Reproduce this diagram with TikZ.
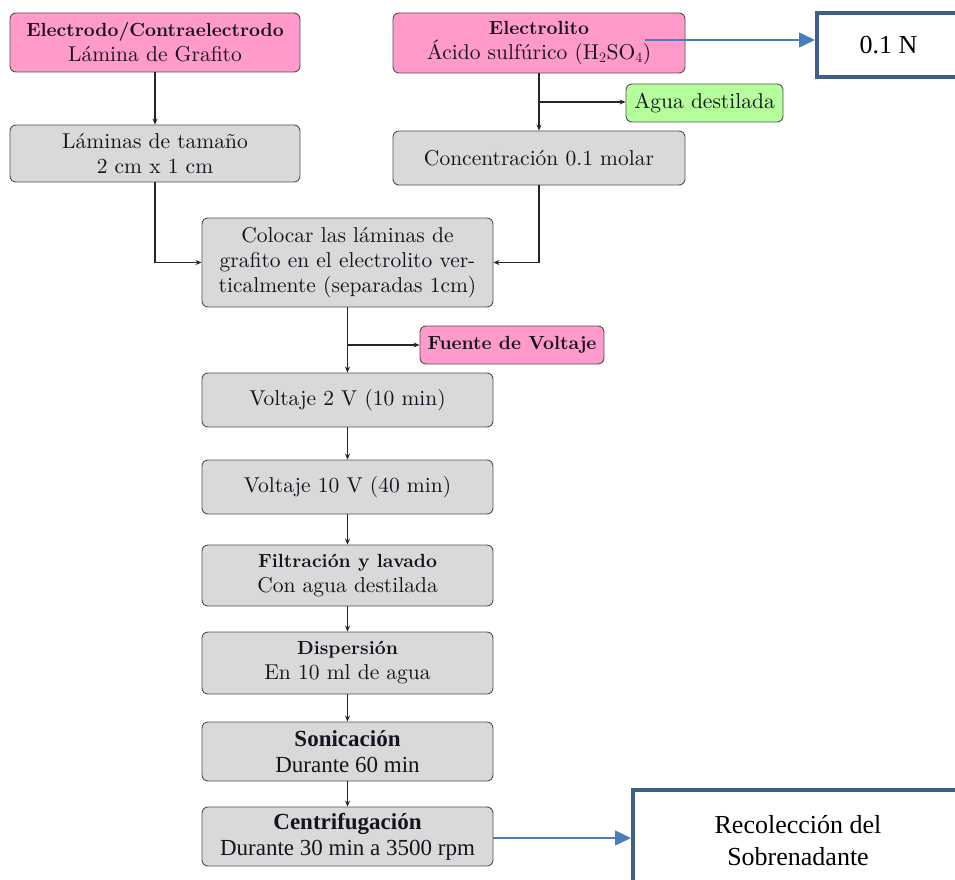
\documentclass[tikz,border=0pt]{standalone}
\usepackage{fontspec}
\setmainfont{lmroman10-regular.otf}[BoldFont=lmroman10-bold.otf, ItalicFont=lmroman10-italic.otf, BoldItalicFont=lmroman10-bolditalic.otf]
\newfontfamily\tnr{Liberation Serif}
\usetikzlibrary{arrows.meta}
\definecolor{pinkf}{HTML}{FF9ACB}
\definecolor{grayf}{HTML}{D9D9D9}
\definecolor{greenf}{HTML}{B4FF9C}
\definecolor{bord}{HTML}{505050}
\definecolor{bluea}{HTML}{4A7EBB}
\definecolor{blueb}{HTML}{3D5F8C}
\definecolor{txt}{HTML}{141420}
\newcommand\bt[1]{{\fontsize{19}{25}\selectfont\bfseries #1}}
\tikzset{
  box/.style={draw=bord, line width=0.9pt, rounded corners=6pt, align=center,
    font=\fontsize{21.5}{25}\selectfont, inner sep=2pt, text=txt},
  pinkbox/.style={box, fill=pinkf},
  graybox/.style={box, fill=grayf},
  greenbox/.style={box, fill=greenf},
  tbox/.style={graybox, font=\tnr\fontsize{23}{26}\selectfont},
  bigbox/.style={draw=blueb, line width=4pt, fill=white, align=center,
    font=\tnr\fontsize{26}{32}\selectfont, text=black},
  arr/.style={draw=black!85, line width=1.1pt, -{Stealth[length=6pt,width=5pt]}},
  bluearr/.style={draw=bluea, line width=1.3pt, -{Triangle[length=16pt,width=15pt]}}
}
\begin{document}
\begin{tikzpicture}[x=1pt,y=-1pt]
\useasboundingbox (0,0) rectangle (955,880);
\clip (0,0) rectangle (955,880);
% nodes
\node[pinkbox, minimum width=290pt, minimum height=59pt] (A) at (155,42.5)
  {\bt{Electrodo/Contraelectrodo}\\Lámina de Grafito};
\node[graybox, minimum width=290pt, minimum height=57pt] (B) at (155,153.5)
  {Láminas de tamaño\\2 cm x 1 cm};
\node[pinkbox, minimum width=292pt, minimum height=60pt] (C) at (539,43)
  {\bt{Electrolito}\\Ácido sulfúrico (H$_2$SO$_4$)};
\node[bigbox, minimum width=143pt, minimum height=64pt] (N) at (888.5,45) {0.1 N};
\node[greenbox, minimum width=157pt, minimum height=38pt] (W) at (704.5,103) {Agua destilada};
\node[graybox, minimum width=292pt, minimum height=54pt] (K) at (539,158) {Concentración 0.1 molar};
\node[graybox, minimum width=291pt, minimum height=89pt] (P) at (347.5,262.5)
  {Colocar las láminas de\\grafito en el electrolito ver-\\ticalmente (separadas 1cm)};
\node[pinkbox, minimum width=184pt, minimum height=38pt] (F) at (512,345) {\bt{Fuente de Voltaje}};
\node[graybox, minimum width=291pt, minimum height=54pt] (V1) at (347.5,400) {Voltaje 2 V (10 min)};
\node[graybox, minimum width=291pt, minimum height=54pt] (V2) at (347.5,487) {Voltaje 10 V (40 min)};
\node[graybox, minimum width=291pt, minimum height=61pt] (L) at (347.5,575.5)
  {\bt{Filtración y lavado}\\Con agua destilada};
\node[graybox, minimum width=291pt, minimum height=62pt] (D) at (347.5,663)
  {\bt{Dispersión}\\En 10 ml de agua};
\node[tbox, minimum width=291pt, minimum height=59pt] (S) at (347.5,751.5)
  {\textbf{Sonicación}\\Durante 60 min};
\node[tbox, minimum width=291pt, minimum height=59pt] (Z) at (347.5,836.5)
  {\textbf{Centrifugación}\\Durante 30 min a 3500 rpm};
\node[bigbox, minimum width=330pt, minimum height=102pt] (R) at (798,841)
  {Recolección del\\Sobrenadante};
% connectors
\draw[arr] (A) -- (B);
\draw[arr] (C) -- (K);
\coordinate (j1) at (539,102);
\draw[arr] (j1) -- (j1 -| W.west);
\draw[arr] (B.south) |- (P.west);
\draw[arr] (K.south) |- (P.east);
\draw[arr] (P) -- (V1);
\coordinate (j2) at (347.5,345);
\draw[arr] (j2) -- (F.west);
\draw[arr] (V1) -- (V2);
\draw[arr] (V2) -- (L);
\draw[arr] (L) -- (D);
\draw[arr] (D) -- (S);
\draw[arr] (S) -- (Z);
\coordinate (b1) at (645,40);
\draw[bluearr] (b1) -- (b1 -| N.west);
\coordinate (b2) at (493,838);
\draw[bluearr] (b2) -- (b2 -| R.west);
\end{tikzpicture}
\end{document}
